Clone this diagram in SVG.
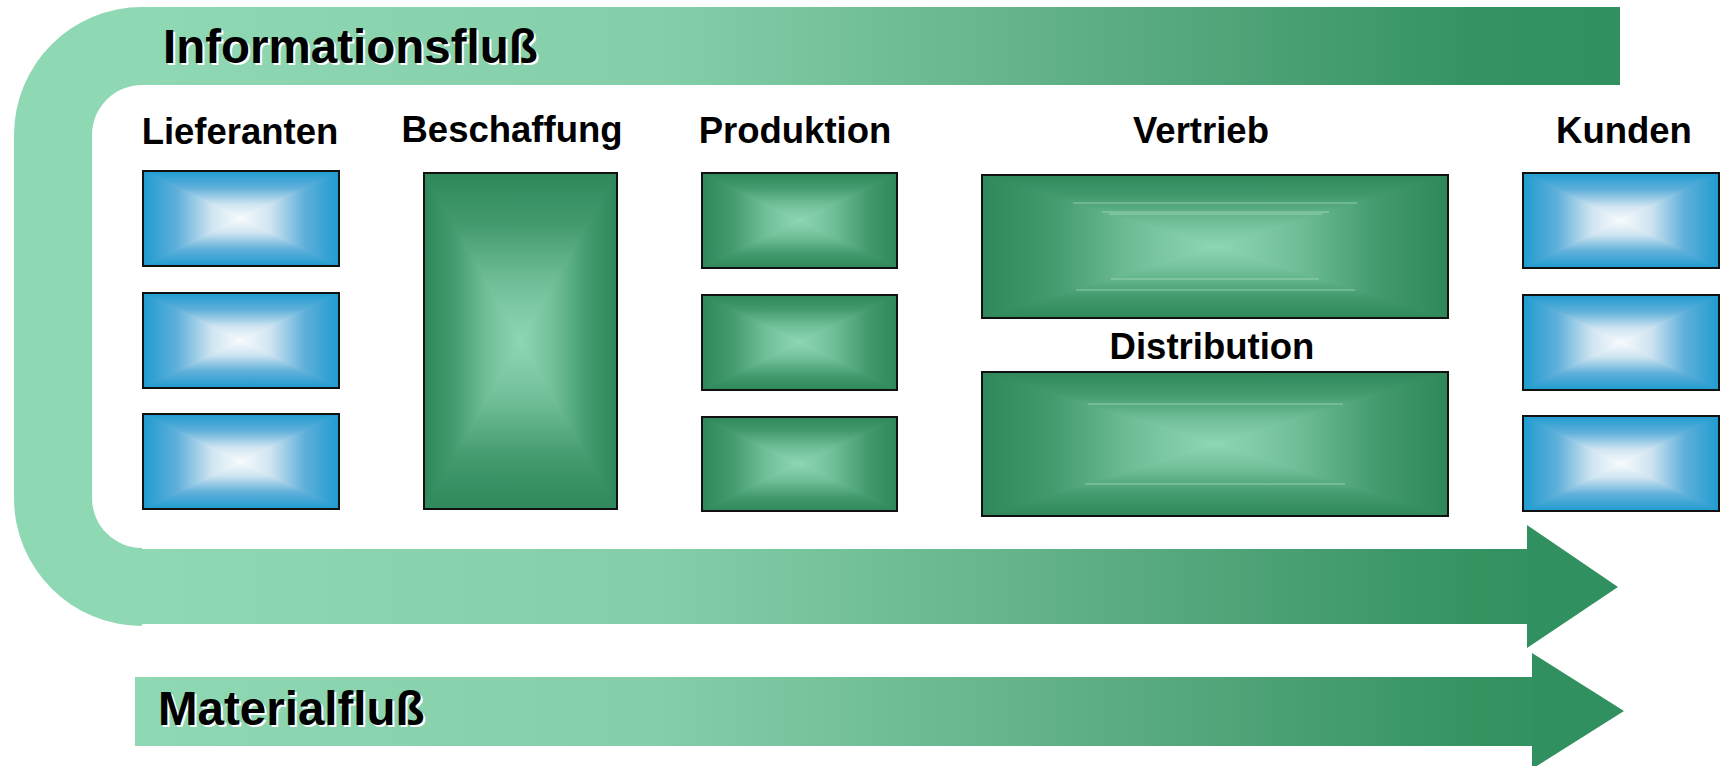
<svg xmlns="http://www.w3.org/2000/svg" xmlns:xlink="http://www.w3.org/1999/xlink" width="1725" height="766" viewBox="0 0 1725 766">
<style>
.lbl{font-family:"Liberation Sans",Arial,sans-serif;font-weight:bold;font-size:36.5px;text-anchor:middle;fill:#000}
.ftxt{font-family:"Liberation Sans",Arial,sans-serif;font-weight:bold;font-size:47.5px;fill:#000}
.fsh{font-family:"Liberation Sans",Arial,sans-serif;font-weight:bold;font-size:47.5px;fill:#fff}
.frame{fill:none;stroke:#111;stroke-width:2}
.light{fill:#8ED8B4}
.dark{fill:#31905F}
.art{stroke:#BDE8D2;stroke-width:1;opacity:0.6}
.bc{fill:#F8FBFD}
.gc{fill:#8DD8B4}
</style>
<defs>
<linearGradient id="blueS"><stop offset="0" stop-color="#1F9BD0"/><stop offset="0.35" stop-color="#5FB0DA"/><stop offset="0.7" stop-color="#CFE4F1"/><stop offset="1" stop-color="#F8FBFD"/></linearGradient>
<linearGradient id="greenS"><stop offset="0" stop-color="#2E885A"/><stop offset="0.3" stop-color="#429A6D"/><stop offset="0.65" stop-color="#70BE97"/><stop offset="1" stop-color="#8DD8B4"/></linearGradient>
<linearGradient id="bT" href="#blueS" x1="0" y1="0" x2="0" y2="1"/>
<linearGradient id="bB" href="#blueS" x1="0" y1="1" x2="0" y2="0"/>
<linearGradient id="bL" href="#blueS" x1="0" y1="0" x2="1" y2="0"/>
<linearGradient id="bR" href="#blueS" x1="1" y1="0" x2="0" y2="0"/>
<linearGradient id="gT" href="#greenS" x1="0" y1="0" x2="0" y2="1"/>
<linearGradient id="gB" href="#greenS" x1="0" y1="1" x2="0" y2="0"/>
<linearGradient id="gL" href="#greenS" x1="0" y1="0" x2="1" y2="0"/>
<linearGradient id="gR" href="#greenS" x1="1" y1="0" x2="0" y2="0"/>
<linearGradient id="flowTop" gradientUnits="userSpaceOnUse" x1="142" y1="0" x2="1620" y2="0"><stop offset="0" stop-color="#8ED8B4"/><stop offset="0.35" stop-color="#84CFAA"/><stop offset="0.65" stop-color="#5DAD84"/><stop offset="0.9" stop-color="#359362"/><stop offset="1" stop-color="#31905F"/></linearGradient>
<linearGradient id="flowBot" href="#flowTop" x1="142" x2="1618"/>
<linearGradient id="flowMat" href="#flowTop" x1="135" x2="1624"/>
</defs>

<g id="connectors">
  <g id="informationsfluss">
    <path class="light" d="M14,135 A128,128 0 0 1 142,7 L142,85 A50,50 0 0 0 92,135 Z"/>
    <rect class="light" x="14" y="134.5" width="78" height="364"/>
    <path class="light" d="M14,498 A128,128 0 0 0 142,626 L142,548 A50,50 0 0 1 92,498 Z"/>
    <rect x="141.5" y="7" width="1478.5" height="78" fill="url(#flowTop)"/>
    <rect x="141.5" y="549" width="1386" height="75" fill="url(#flowBot)"/>
    <polygon class="dark" points="1527,525 1618,587 1527,648"/>
    <text class="fsh" x="165" y="65">Informationsfluß</text>
    <text class="ftxt" x="163" y="63">Informationsfluß</text>
  </g>
  <g id="materialfluss">
    <rect x="135" y="677" width="1398" height="69" fill="url(#flowMat)"/>
    <polygon class="dark" points="1532,653 1624,711 1532,769"/>
    <text class="fsh" x="160" y="727">Materialfluß</text>
    <text class="ftxt" x="158" y="725">Materialfluß</text>
  </g>
</g>

<g id="lieferanten">
  <text class="lbl" x="240" y="144">Lieferanten</text>
  <g id="lief1"><rect class="bc" x="143" y="171" width="196" height="95"/><rect fill="url(#bL)" x="143" y="171" width="98" height="95"/><rect fill="url(#bR)" x="241" y="171" width="98" height="95"/><polygon fill="url(#bT)" points="143,171 339,171 241,218.5"/><polygon fill="url(#bB)" points="143,266 339,266 241,218.5"/><rect class="frame" x="143" y="171" width="196" height="95"/></g>
  <g id="lief2"><rect class="bc" x="143" y="293" width="196" height="95"/><rect fill="url(#bL)" x="143" y="293" width="98" height="95"/><rect fill="url(#bR)" x="241" y="293" width="98" height="95"/><polygon fill="url(#bT)" points="143,293 339,293 241,340.5"/><polygon fill="url(#bB)" points="143,388 339,388 241,340.5"/><rect class="frame" x="143" y="293" width="196" height="95"/></g>
  <g id="lief3"><rect class="bc" x="143" y="414" width="196" height="95"/><rect fill="url(#bL)" x="143" y="414" width="98" height="95"/><rect fill="url(#bR)" x="241" y="414" width="98" height="95"/><polygon fill="url(#bT)" points="143,414 339,414 241,461.5"/><polygon fill="url(#bB)" points="143,509 339,509 241,461.5"/><rect class="frame" x="143" y="414" width="196" height="95"/></g>
</g>

<g id="beschaffung">
  <text class="lbl" x="512" y="142">Beschaffung</text>
  <rect class="gc" x="424" y="173" width="193" height="336"/><rect fill="url(#gL)" x="424" y="173" width="96.5" height="336"/><rect fill="url(#gR)" x="520.5" y="173" width="96.5" height="336"/>
  <polygon fill="url(#gT)" points="424,173 617,173 520.5,341"/><polygon fill="url(#gB)" points="424,509 617,509 520.5,341"/>
  <rect class="frame" x="424" y="173" width="193" height="336"/>
</g>

<g id="produktion">
  <text class="lbl" x="795" y="143">Produktion</text>
  <g id="prod1"><rect class="gc" x="702" y="173" width="195" height="95"/><rect fill="url(#gL)" x="702" y="173" width="97.5" height="95"/><rect fill="url(#gR)" x="799.5" y="173" width="97.5" height="95"/><polygon fill="url(#gT)" points="702,173 897,173 799.5,220.5"/><polygon fill="url(#gB)" points="702,268 897,268 799.5,220.5"/><rect class="frame" x="702" y="173" width="195" height="95"/></g>
  <g id="prod2"><rect class="gc" x="702" y="295" width="195" height="95"/><rect fill="url(#gL)" x="702" y="295" width="97.5" height="95"/><rect fill="url(#gR)" x="799.5" y="295" width="97.5" height="95"/><polygon fill="url(#gT)" points="702,295 897,295 799.5,342.5"/><polygon fill="url(#gB)" points="702,390 897,390 799.5,342.5"/><rect class="frame" x="702" y="295" width="195" height="95"/></g>
  <g id="prod3"><rect class="gc" x="702" y="417" width="195" height="94"/><rect fill="url(#gL)" x="702" y="417" width="97.5" height="94"/><rect fill="url(#gR)" x="799.5" y="417" width="97.5" height="94"/><polygon fill="url(#gT)" points="702,417 897,417 799.5,464"/><polygon fill="url(#gB)" points="702,511 897,511 799.5,464"/><rect class="frame" x="702" y="417" width="195" height="94"/></g>
</g>

<g id="vertrieb">
  <text class="lbl" x="1201" y="143">Vertrieb</text>
  <rect class="gc" x="982" y="175" width="466" height="143"/><rect fill="url(#gL)" x="982" y="175" width="233" height="143"/><rect fill="url(#gR)" x="1215" y="175" width="233" height="143"/>
  <polygon fill="url(#gT)" points="982,175 1448,175 1215,246.5"/><polygon fill="url(#gB)" points="982,318 1448,318 1215,246.5"/>
  <line class="art" x1="1073" y1="203" x2="1357" y2="203"/><line class="art" x1="1102" y1="212" x2="1329" y2="212"/><line class="art" x1="1109" y1="214" x2="1322" y2="214"/><line class="art" x1="1111" y1="279" x2="1319" y2="279"/><line class="art" x1="1076" y1="290" x2="1355" y2="290"/>
  <rect class="frame" x="982" y="175" width="466" height="143"/>
</g>

<g id="distribution">
  <text class="lbl" x="1212" y="359">Distribution</text>
  <rect class="gc" x="982" y="372" width="466" height="144"/><rect fill="url(#gL)" x="982" y="372" width="233" height="144"/><rect fill="url(#gR)" x="1215" y="372" width="233" height="144"/>
  <polygon fill="url(#gT)" points="982,372 1448,372 1215,444"/><polygon fill="url(#gB)" points="982,516 1448,516 1215,444"/>
  <line class="art" x1="1088" y1="404" x2="1343" y2="404"/><line class="art" x1="1085" y1="484" x2="1345" y2="484"/>
  <rect class="frame" x="982" y="372" width="466" height="144"/>
</g>

<g id="kunden">
  <text class="lbl" x="1624" y="143">Kunden</text>
  <g id="kund1"><rect class="bc" x="1523" y="173" width="196" height="95"/><rect fill="url(#bL)" x="1523" y="173" width="98" height="95"/><rect fill="url(#bR)" x="1621" y="173" width="98" height="95"/><polygon fill="url(#bT)" points="1523,173 1719,173 1621,220.5"/><polygon fill="url(#bB)" points="1523,268 1719,268 1621,220.5"/><rect class="frame" x="1523" y="173" width="196" height="95"/></g>
  <g id="kund2"><rect class="bc" x="1523" y="295" width="196" height="95"/><rect fill="url(#bL)" x="1523" y="295" width="98" height="95"/><rect fill="url(#bR)" x="1621" y="295" width="98" height="95"/><polygon fill="url(#bT)" points="1523,295 1719,295 1621,342.5"/><polygon fill="url(#bB)" points="1523,390 1719,390 1621,342.5"/><rect class="frame" x="1523" y="295" width="196" height="95"/></g>
  <g id="kund3"><rect class="bc" x="1523" y="416" width="196" height="95"/><rect fill="url(#bL)" x="1523" y="416" width="98" height="95"/><rect fill="url(#bR)" x="1621" y="416" width="98" height="95"/><polygon fill="url(#bT)" points="1523,416 1719,416 1621,463.5"/><polygon fill="url(#bB)" points="1523,511 1719,511 1621,463.5"/><rect class="frame" x="1523" y="416" width="196" height="95"/></g>
</g>
</svg>
